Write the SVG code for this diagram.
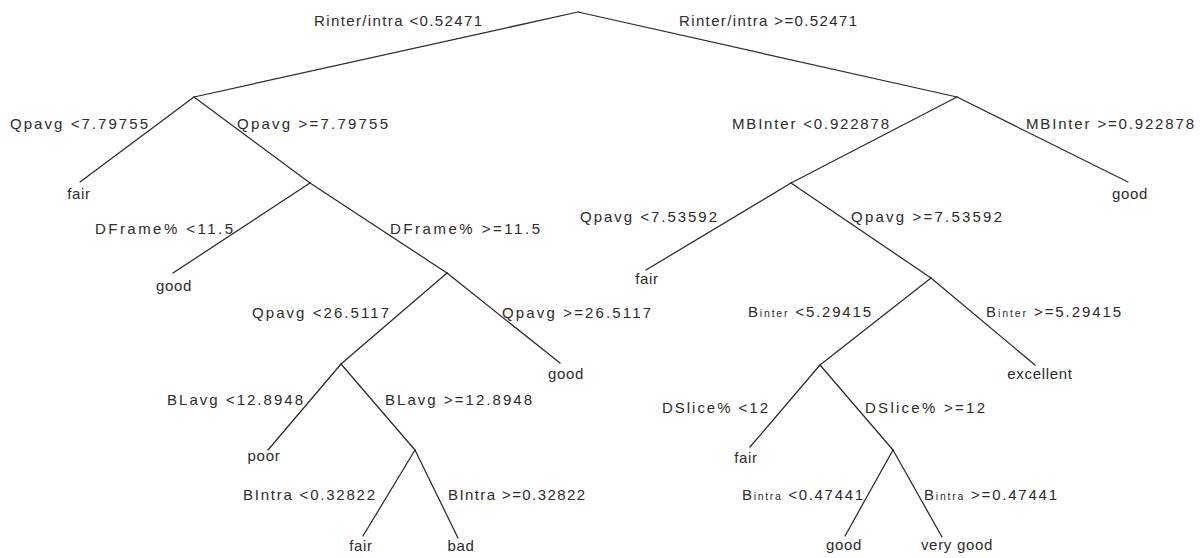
<svg xmlns="http://www.w3.org/2000/svg" width="1201" height="558" viewBox="0 0 1201 558">
  <style>
    text { font-family: "Liberation Sans", Arial, sans-serif; font-size: 15px; fill: #2b2b2b; }
    .leaf { text-anchor: middle; letter-spacing: 0.7px; }
    .sub { font-size: 10.5px; }
    .edge { stroke: #2a2a2a; stroke-width: 1.25; fill: none; stroke-linecap: round; }
  </style>
  <rect width="1201" height="558" fill="#ffffff"/>

  <!-- tree branches -->
  <g id="connectors">
    <line class="edge" x1="578" y1="12" x2="194" y2="97"/>
    <line class="edge" x1="578" y1="12" x2="957" y2="97"/>
    <line class="edge" x1="194" y1="97" x2="80" y2="182"/>
    <line class="edge" x1="194" y1="97" x2="310" y2="183"/>
    <line class="edge" x1="310" y1="183" x2="173" y2="273"/>
    <line class="edge" x1="310" y1="183" x2="447" y2="273"/>
    <line class="edge" x1="447" y1="273" x2="341" y2="364"/>
    <line class="edge" x1="447" y1="273" x2="560" y2="363"/>
    <line class="edge" x1="341" y1="364" x2="268" y2="450"/>
    <line class="edge" x1="341" y1="364" x2="415" y2="450"/>
    <line class="edge" x1="415" y1="450" x2="363" y2="536"/>
    <line class="edge" x1="415" y1="450" x2="458" y2="538"/>
    <line class="edge" x1="957" y1="97" x2="791" y2="183"/>
    <line class="edge" x1="957" y1="97" x2="1128" y2="182"/>
    <line class="edge" x1="791" y1="183" x2="646" y2="270"/>
    <line class="edge" x1="791" y1="183" x2="931" y2="278"/>
    <line class="edge" x1="931" y1="278" x2="820" y2="365"/>
    <line class="edge" x1="931" y1="278" x2="1035" y2="365"/>
    <line class="edge" x1="820" y1="365" x2="750" y2="447"/>
    <line class="edge" x1="820" y1="365" x2="893" y2="450"/>
    <line class="edge" x1="893" y1="450" x2="845" y2="536"/>
    <line class="edge" x1="893" y1="450" x2="942" y2="537"/>
  </g>

  <!-- split nodes: condition labels on each branch -->
  <g id="split-root">
    <text x="314" y="26" textLength="168">Rinter/intra &lt;0.52471</text>
    <text x="679" y="26" textLength="178">Rinter/intra &gt;=0.52471</text>
  </g>
  <g id="split-qpavg-1">
    <text x="10" y="129" textLength="138">Qpavg &lt;7.79755</text>
    <text x="237" y="129" textLength="151">Qpavg &gt;=7.79755</text>
  </g>
  <g id="split-mbinter">
    <text x="732" y="129" textLength="157">MBInter &lt;0.922878</text>
    <text x="1026" y="129" textLength="168">MBInter &gt;=0.922878</text>
  </g>
  <g id="split-dframe">
    <text x="95" y="234" textLength="138">DFrame% &lt;11.5</text>
    <text x="390" y="234" textLength="150">DFrame% &gt;=11.5</text>
  </g>
  <g id="split-qpavg-2">
    <text x="580" y="222" textLength="137">Qpavg &lt;7.53592</text>
    <text x="851" y="222" textLength="151">Qpavg &gt;=7.53592</text>
  </g>
  <g id="split-qpavg-3">
    <text x="252" y="318" textLength="137">Qpavg &lt;26.5117</text>
    <text x="502" y="318" textLength="149">Qpavg &gt;=26.5117</text>
  </g>
  <g id="split-binter">
    <text x="748" y="317" textLength="123">B<tspan class="sub">inter</tspan> &lt;5.29415</text>
    <text x="986" y="317" textLength="135">B<tspan class="sub">inter</tspan> &gt;=5.29415</text>
  </g>
  <g id="split-blavg">
    <text x="167" y="405" textLength="136">BLavg &lt;12.8948</text>
    <text x="385" y="405" textLength="147">BLavg &gt;=12.8948</text>
  </g>
  <g id="split-dslice">
    <text x="662" y="413" textLength="106">DSlice% &lt;12</text>
    <text x="865" y="413" textLength="120">DSlice% &gt;=12</text>
  </g>
  <g id="split-bintra-left">
    <text x="243" y="500" textLength="132">BIntra &lt;0.32822</text>
    <text x="448" y="500" textLength="137">BIntra &gt;=0.32822</text>
  </g>
  <g id="split-bintra-right">
    <text x="742" y="500" textLength="121">B<tspan class="sub">intra</tspan> &lt;0.47441</text>
    <text x="924" y="500" textLength="133">B<tspan class="sub">intra</tspan> &gt;=0.47441</text>
  </g>

  <!-- leaves -->
  <g id="leaf-fair-1"><text class="leaf" x="79" y="199">fair</text></g>
  <g id="leaf-good-1"><text class="leaf" x="174" y="291">good</text></g>
  <g id="leaf-good-2"><text class="leaf" x="566" y="379">good</text></g>
  <g id="leaf-poor"><text class="leaf" x="264" y="461">poor</text></g>
  <g id="leaf-fair-2"><text class="leaf" x="361" y="551">fair</text></g>
  <g id="leaf-bad"><text class="leaf" x="461" y="551">bad</text></g>
  <g id="leaf-good-3"><text class="leaf" x="1130" y="199">good</text></g>
  <g id="leaf-fair-3"><text class="leaf" x="647" y="284">fair</text></g>
  <g id="leaf-excellent"><text class="leaf" x="1040" y="379">excellent</text></g>
  <g id="leaf-fair-4"><text class="leaf" x="746" y="463">fair</text></g>
  <g id="leaf-good-4"><text class="leaf" x="844" y="550">good</text></g>
  <g id="leaf-very-good"><text class="leaf" x="957" y="550">very good</text></g>
</svg>
